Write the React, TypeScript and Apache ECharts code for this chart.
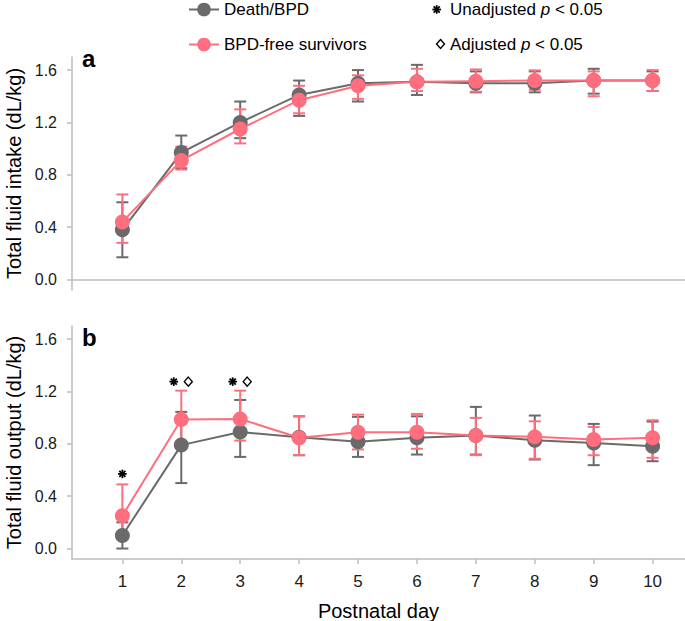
import React, { useEffect, useRef } from "react";
import * as echarts from "echarts";

// ---- Data ----
const days = [1, 2, 3, 4, 5, 6, 7, 8, 9, 10];

const intakeDeath = [0.38, 0.97, 1.2, 1.41, 1.5, 1.51, 1.5, 1.5, 1.52, 1.52];
const intakeDeathLow = [0.17, 0.85, 1.08, 1.25, 1.36, 1.41, 1.43, 1.43, 1.42, 1.44];
const intakeDeathHigh = [0.59, 1.1, 1.36, 1.52, 1.6, 1.64, 1.59, 1.59, 1.61, 1.59];
const intakeFree = [0.44, 0.91, 1.15, 1.37, 1.48, 1.51, 1.515, 1.52, 1.52, 1.52];
const intakeFreeLow = [0.28, 0.84, 1.04, 1.27, 1.38, 1.44, 1.435, 1.45, 1.4, 1.44];
const intakeFreeHigh = [0.65, 1.015, 1.3, 1.48, 1.56, 1.61, 1.605, 1.598, 1.59, 1.6];

const outputDeath = [0.1, 0.79, 0.89, 0.85, 0.815, 0.846, 0.863, 0.828, 0.807, 0.782];
const outputDeathLow = [0.0, 0.5, 0.7, 0.713, 0.7, 0.718, 0.718, 0.68, 0.637, 0.667];
const outputDeathHigh = [0.2, 1.044, 1.135, 1.01, 1.006, 1.01, 1.082, 1.016, 0.952, 0.97];
const outputFree = [0.25, 0.985, 0.99, 0.846, 0.889, 0.889, 0.863, 0.853, 0.833, 0.846];
const outputFreeLow = [0.076, 0.774, 0.825, 0.713, 0.757, 0.762, 0.713, 0.686, 0.713, 0.693];
const outputFreeHigh = [0.49, 1.206, 1.206, 1.01, 1.023, 1.028, 0.998, 0.972, 0.929, 0.98];

const unadjustedDays = [1, 2, 3];
const unadjustedY = [0.57, 1.275, 1.275];
const adjustedDays = [2, 3];
const adjustedY = [1.275, 1.275];

const yTickValues = [0, 0.4, 0.8, 1.2, 1.6];

const groupNames = ["Death/BPD", "BPD-free survivors"];
const yTitles = ["Total fluid intake (dL/kg)", "Total fluid output (dL/kg)"];
const xTitle = "Postnatal day";

// ---- Styles ----
const FONT = "'Liberation Sans', Arial, Helvetica, sans-serif";
const GRAY = "#6a6a6a";
const PINK = "#ff6e7e";
const AXIS = "#bdbdbd";

function starShapes(cx: number, cy: number, r: number) {
  const out: any[] = [];
  for (let k = 0; k < 4; k++) {
    const a = (Math.PI / 4) * k;
    out.push({
      type: "line",
      shape: {
        x1: cx - r * Math.cos(a),
        y1: cy - r * Math.sin(a),
        x2: cx + r * Math.cos(a),
        y2: cy + r * Math.sin(a),
      },
      style: { stroke: "#000", lineWidth: 1.8 },
    });
  }
  return out;
}

function diamondShape(cx: number, cy: number, hw: number, hh: number) {
  return {
    type: "polygon",
    shape: {
      points: [
        [cx, cy - hh],
        [cx + hw, cy],
        [cx, cy + hh],
        [cx - hw, cy],
      ],
    },
    style: { fill: "#fff", stroke: "#000", lineWidth: 1.4 },
  };
}

function errorSeries(name: string, idx: number, low: number[], high: number[], color: string) {
  return {
    type: "custom",
    name,
    xAxisIndex: idx,
    yAxisIndex: idx,
    silent: true,
    data: days.map((d, i) => [d, low[i], high[i]]),
    encode: { x: 0, y: [1, 2] },
    renderItem: (_p: any, api: any) => {
      const x = api.value(0);
      const lo = api.coord([x, api.value(1)]);
      const hi = api.coord([x, api.value(2)]);
      const hw = 6;
      const style = { stroke: color, lineWidth: 2 };
      return {
        type: "group",
        children: [
          { type: "line", shape: { x1: lo[0], y1: lo[1], x2: hi[0], y2: hi[1] }, style },
          { type: "line", shape: { x1: lo[0] - hw, y1: lo[1], x2: lo[0] + hw, y2: lo[1] }, style },
          { type: "line", shape: { x1: hi[0] - hw, y1: hi[1], x2: hi[0] + hw, y2: hi[1] }, style },
        ],
      };
    },
  };
}

function lineSeries(name: string, idx: number, vals: number[], color: string) {
  return {
    type: "line",
    name,
    xAxisIndex: idx,
    yAxisIndex: idx,
    data: days.map((d, i) => [d, vals[i]]),
    symbol: "circle",
    symbolSize: 15,
    showSymbol: true,
    lineStyle: { color, width: 2 },
    itemStyle: { color },
  };
}

function yAxisDef(idx: number) {
  return {
    gridIndex: idx,
    type: "value",
    min: -0.08,
    max: 1.7,
    name: yTitles[idx],
    nameLocation: "middle",
    nameGap: 48,
    nameTextStyle: { fontSize: 20, color: "#000", fontFamily: FONT },
    axisLine: { show: true, lineStyle: { color: AXIS, width: 1.5 } },
    axisTick: { show: true, length: 5, lineStyle: { color: AXIS, width: 1.5 }, customValues: yTickValues },
    axisLabel: {
      customValues: yTickValues,
      formatter: (v: number) => v.toFixed(1),
      fontSize: 16,
      color: "#1a1a1a",
      fontFamily: FONT,
      margin: 15,
    },
    splitLine: { show: false },
  };
}

export default function App() {
  const ref = useRef<HTMLDivElement>(null);

  useEffect(() => {
    if (!ref.current) return;
    const chart = echarts.init(ref.current, null, { renderer: "svg" });

    const markerSeries = {
      type: "custom",
      name: "sig",
      xAxisIndex: 1,
      yAxisIndex: 1,
      silent: true,
      data: unadjustedDays.map((d, i) => [d, unadjustedY[i], 0]).concat(adjustedDays.map((d, i) => [d, adjustedY[i], 1])),
      encode: { x: 0, y: 1 },
      renderItem: (_p: any, api: any) => {
        const d = api.value(0);
        const kind = api.value(2);
        const c = api.coord([d, api.value(1)]);
        if (kind === 0) {
          const shift = adjustedDays.indexOf(d) >= 0 ? -7.5 : 0;
          return { type: "group", children: starShapes(c[0] + shift, c[1], 4.3) };
        }
        return { type: "group", children: [diamondShape(c[0] + 7, c[1], 4, 4.5)] };
      },
    };

    const richLegend = {
      n: { fontSize: 17, fontFamily: FONT, fill: "#000" },
      i: { fontSize: 17, fontFamily: FONT, fontStyle: "italic", fill: "#000" },
    };

    chart.setOption({
      animation: false,
      grid: [
        { left: 72, right: 0, top: 57, height: 233, outerBoundsMode: "none", containLabel: false },
        { left: 72, right: 0, top: 326, height: 233, outerBoundsMode: "none", containLabel: false },
      ],
      legend: {
        data: groupNames,
        orient: "vertical",
        left: 188,
        top: 1,
        padding: 0,
        itemWidth: 30,
        itemHeight: 17,
        itemGap: 18,
        textStyle: { fontSize: 17, fontFamily: FONT, color: "#000" },
      },
      xAxis: [
        {
          gridIndex: 0,
          type: "value",
          min: 0.145,
          max: 10.55,
          axisLine: { show: true, onZero: true, lineStyle: { color: AXIS, width: 1.5 } },
          axisTick: { show: false },
          axisLabel: { show: false },
          splitLine: { show: false },
        },
        {
          gridIndex: 1,
          type: "value",
          min: 0.145,
          max: 10.55,
          name: xTitle,
          nameLocation: "middle",
          nameGap: 42,
          nameTextStyle: { fontSize: 20, color: "#000", fontFamily: FONT },
          axisLine: { show: true, onZero: false, lineStyle: { color: AXIS, width: 1.5 } },
          axisTick: { show: true, length: 5, lineStyle: { color: AXIS, width: 1.5 }, customValues: days },
          axisLabel: { customValues: days, fontSize: 17, color: "#1a1a1a", fontFamily: FONT, margin: 14 },
          splitLine: { show: false },
        },
      ],
      yAxis: [yAxisDef(0), yAxisDef(1)],
      graphic: [
        { type: "text", x: 82, y: 58.5, style: { text: "a", fontSize: 24, fontWeight: "bold", fontFamily: FONT, fill: "#000", verticalAlign: "middle" } },
        { type: "text", x: 82, y: 337, style: { text: "b", fontSize: 24, fontWeight: "bold", fontFamily: FONT, fill: "#000", verticalAlign: "middle" } },
        { type: "group", children: starShapes(436.7, 9.5, 4.3) },
        { type: "text", x: 450, y: 9.5, style: { text: "{n|Unadjusted }{i|p}{n| < 0.05}", rich: richLegend, verticalAlign: "middle" } },
        { type: "group", children: [diamondShape(440.5, 44, 4, 4.5)] },
        { type: "text", x: 450, y: 44, style: { text: "{n|Adjusted }{i|p}{n| < 0.05}", rich: richLegend, verticalAlign: "middle" } },
      ],
      series: [
        errorSeries("eb-d-a", 0, intakeDeathLow, intakeDeathHigh, GRAY),
        lineSeries(groupNames[0], 0, intakeDeath, GRAY),
        errorSeries("eb-f-a", 0, intakeFreeLow, intakeFreeHigh, PINK),
        lineSeries(groupNames[1], 0, intakeFree, PINK),
        errorSeries("eb-d-b", 1, outputDeathLow, outputDeathHigh, GRAY),
        lineSeries(groupNames[0], 1, outputDeath, GRAY),
        errorSeries("eb-f-b", 1, outputFreeLow, outputFreeHigh, PINK),
        lineSeries(groupNames[1], 1, outputFree, PINK),
        markerSeries,
      ],
    });

    return () => chart.dispose();
  }, []);

  return (
    <div
      ref={ref}
      style={{ position: "fixed", left: 0, top: 0, width: 685, height: 621, background: "#fff" }}
    />
  );
}
